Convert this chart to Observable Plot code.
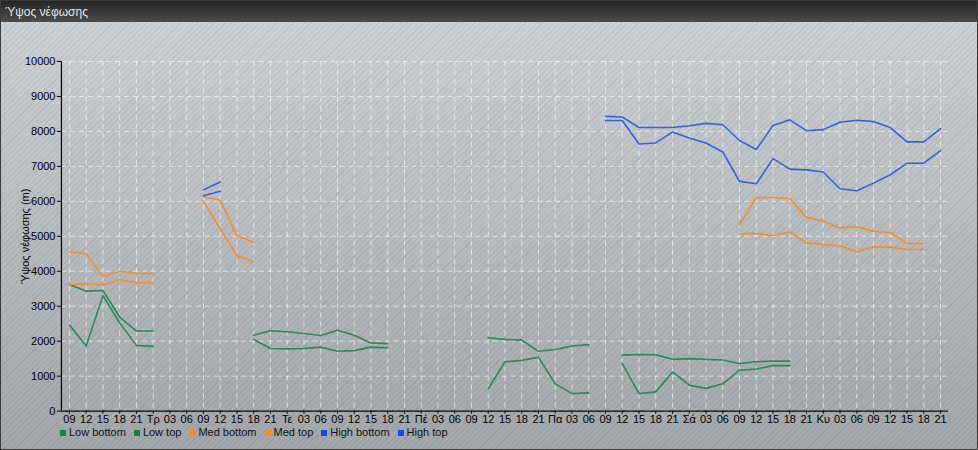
<!DOCTYPE html>
<html>
<head>
<meta charset="utf-8">
<script src="https://cdn.jsdelivr.net/npm/d3@7"></script>
<script src="https://cdn.jsdelivr.net/npm/@observablehq/plot@0.6"></script>
<style>
  html, body { margin: 0; padding: 0; }
  body { width: 978px; height: 450px; overflow: hidden; font-family: "Liberation Sans", Arial, sans-serif; }
  #box {
    position: relative; width: 976px; height: 448px; border: 1px solid #3a3a3a;
    background:
      repeating-linear-gradient(-45deg, rgba(0,0,0,0.06) 0 1px, rgba(255,255,255,0) 1px 4px),
      linear-gradient(#ced2d5, #a4a7aa);
  }
  #title {
    position: absolute; left: 0; top: 0; width: 976px; height: 21px;
    background: linear-gradient(#262626, #4c4c4c);
    color: #e6e6e6; font-size: 12px; line-height: 22px; padding-left: 4px; box-sizing: border-box;
  }
  #chart { position: absolute; left: -1px; top: 21px; }
  #legend {
    position: absolute; left: 59px; top: 425px; font-size: 11px; color: #111;
    display: flex; gap: 8px; align-items: center;
  }
  #legend span.sw { display: inline-block; width: 6px; height: 6px; margin-right: 3px; vertical-align: middle; }
</style>
</head>
<body>
<div id="box">
  <div id="title">Ύψος νέφωσης</div>
  <div id="chart"></div>
  <div id="legend"></div>
</div>
<script>
// x positions: 3-hour steps, index 0 = Monday 09:00 ... 52 = Sunday 21:00
const xLabels = ["09","12","15","18","21",
  "Τρ","03","06","09","12","15","18","21",
  "Τε","03","06","09","12","15","18","21",
  "Πέ","03","06","09","12","15","18","21",
  "Πα","03","06","09","12","15","18","21",
  "Σά","03","06","09","12","15","18","21",
  "Κυ","03","06","09","12","15","18","21"];
const yTicks = [0,1000,2000,3000,4000,5000,6000,7000,8000,9000,10000];

const _ = null;
const lowBottom = [2460,1860,3300,2520,1880,1850, _,_,_,_,_,
  2050,1790,1780,1790,1830,1710,1730,1830,1810, _,_,_,_,_,
  640,1410,1450,1540,780,500,520, _,
  1360,500,550,1120,740,650,780,1170,1200,1300,1300, _,_,_,_,_,_,_,_,_];
const lowTop = [3620,3430,3450,2690,2290,2290, _,_,_,_,_,
  2170,2300,2270,2220,2160,2310,2170,1950,1930, _,_,_,_,_,
  2100,2050,2030,1710,1760,1860,1900, _,
  1600,1620,1610,1480,1500,1480,1460,1360,1410,1430,1430, _,_,_,_,_,_,_,_,_];
const medBottom = [3620,3640,3600,3760,3670,3670, _,_,
  6000,5220,4450,4270, _,_,_,_,_,_,_,_,_,_,_,_,_,_,_,_,_,_,_,_,_,_,_,_,_,_,_,_,
  5070,5080,5020,5120,4810,4760,4730,4550,4700,4690,4620,4620, _];
const medTop = [4550,4500,3850,4000,3940,3940, _,_,
  6140,6030,5020,4830, _,_,_,_,_,_,_,_,_,_,_,_,_,_,_,_,_,_,_,_,_,_,_,_,_,_,_,_,
  5330,6110,6110,6080,5540,5430,5240,5270,5140,5110,4790,4790, _];
const highBottom = [_,_,_,_,_,_,_,_,
  6160,6290, _,_,_,_,_,_,_,_,_,_,_,_,_,_,_,_,_,_,_,_,_,_,
  8310,8310,7640,7670,7980,7810,7670,7410,6570,6500,7220,6920,6900,6840,6360,6300,6520,6760,7090,7090,7450];
const highTop = [_,_,_,_,_,_,_,_,
  6330,6550, _,_,_,_,_,_,_,_,_,_,_,_,_,_,_,_,_,_,_,_,_,_,
  8430,8410,8110,8110,8110,8160,8230,8190,7740,7480,8170,8330,8020,8050,8260,8320,8280,8110,7700,7700,8080];

const seriesNames = ["Low bottom","Low top","Med bottom","Med top","High bottom","High top"];
const seriesValues = [lowBottom, lowTop, medBottom, medTop, highBottom, highTop];
const lineColors = ["#2b8a57","#2b8a57","#f2902e","#f2902e","#3464dc","#3464dc"];
const legendColors = ["#128445","#128445","#ff8a12","#ff8a12","#1248ee","#1248ee"];

const rows = [];
seriesNames.forEach((name, s) => seriesValues[s].forEach((v, i) => rows.push({name, i, v})));
const xIdx = xLabels.map((d, i) => i);

const chart = Plot.plot({
  width: 978, height: 405,
  marginLeft: 61, marginRight: 29, marginTop: 39, marginBottom: 16,
  style: {background: "transparent", fontFamily: "'Liberation Sans', Arial, sans-serif", fontSize: "11px", color: "#000", overflow: "visible"},
  x: {domain: [0, 52], insetLeft: 8, insetRight: 8},
  y: {domain: [0, 10000]},
  marks: [
    Plot.gridY(yTicks, {stroke: "#ffffff", strokeOpacity: 0.6, strokeDasharray: "5,4"}),
    Plot.gridX(xIdx, {stroke: "#ffffff", strokeOpacity: 0.6, strokeDasharray: "5,4"}),
    ...seriesNames.map((name, s) =>
      Plot.line(rows.filter(r => r.name === name), {x: "i", y: "v", stroke: lineColors[s], strokeWidth: 1.6})),
    Plot.ruleY([0], {stroke: "#000", strokeWidth: 1.2}),
    Plot.ruleX([0], {dx: -8, stroke: "#000", strokeWidth: 1.2}),
    Plot.axisY(yTicks, {tickSize: 4, tickPadding: 2, tickFormat: d => String(d), label: "Ύψος νέφωσης (m)", labelAnchor: "center", labelOffset: 40, labelArrow: "none", fill: "#000", stroke: "#000"}),
    Plot.axisX(xIdx, {tickSize: 3, tickPadding: 1, tickFormat: i => xLabels[i], label: null, fill: "#000", stroke: "#000"})
  ]
});
document.getElementById("chart").appendChild(chart);

const legend = document.getElementById("legend");
seriesNames.forEach((name, s) => {
  const item = document.createElement("div");
  item.innerHTML = `<span class="sw" style="background:${legendColors[s]}"></span>${name}`;
  legend.appendChild(item);
});
</script>
</body>
</html>
